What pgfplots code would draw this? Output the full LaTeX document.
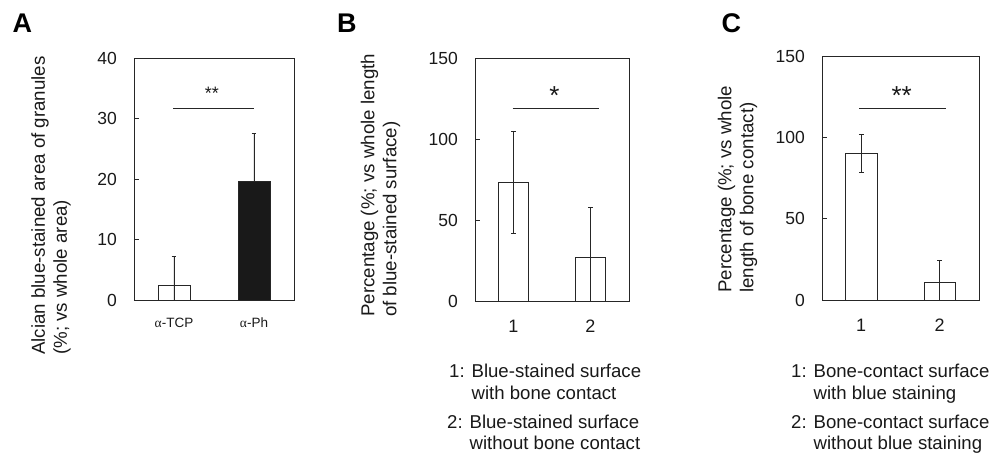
\documentclass[border=0pt]{standalone}
\usepackage{fontspec}
\setmainfont{Liberation Sans}
\newfontfamily\greekserif{Liberation Serif}
\usepackage{pgfplots}
\pgfplotsset{compat=1.18}
\tikzset{sigstar/.style={anchor=base, inner sep=0pt, font=\fontsize{18}{18}\selectfont, text=black!90}}
\begin{document}
\begin{tikzpicture}
\useasboundingbox (0pt,0pt) rectangle (989pt,-454pt);
\pgfplotsset{
  panel/.style={
    scale only axis, anchor=south west,
    axis line style={line width=0.9pt, black!85},
    xmin=0.5, xmax=2.5, ymin=0, xtick={1,2},
    major tick length=5pt, tick align=inside,
    ytick pos=left, xtick pos=bottom,
    ytick style={line width=0.8pt, black!85},
    xtick style={draw=none},
    /pgf/number format/assume math mode=true,
    yticklabel style={font=\fontsize{17.5}{17.5}\selectfont, inner sep=0pt, anchor=east, xshift=-17pt, text=black!90},
    xticklabel style={font=\fontsize{18}{18}\selectfont, inner sep=0pt, anchor=center, yshift=-25pt, text=black!90},
    ylabel style={font=\fontsize{18.7}{22}\selectfont, align=left, inner sep=0pt, anchor=west, rotate=0, text=black!90},
  },
  wbar/.style={ybar, bar shift=0pt, bar width=#1, fill=white, draw=black!85, line width=0.9pt,
    error bars/y dir=both, error bars/y explicit,
    error bars/error bar style={line width=0.8pt, black!85},
    error bars/error mark options={rotate=90, mark size=2.4pt, line width=0.8pt, black!85}},
  sigline/.style={black!85, line width=0.8pt},
}
% Panel A
\begin{axis}[panel, at={(134pt,-300pt)}, width=160pt, height=242pt,
  ymax=40, ytick={0,10,20,30,40},
  xticklabels={{\greekserif α}-TCP,{\greekserif α}-Ph},
  xticklabel style={font=\fontsize{13.5}{13.5}\selectfont, yshift=2pt},
  ylabel={Alcian blue-stained area of granules\\(\%; vs whole area)},
  ylabel style={at={(axis description cs:-0.519,-0.227)}}]
\addplot[wbar=32pt] coordinates {(1,2.4) +- (0,4.8)};
\addplot[wbar=32pt, fill=black!90, error bars/y dir=plus] coordinates {(2,19.6) +- (0,7.9)};
\addplot[sigline] coordinates {(0.99,31.7) (2.0,31.7)};
\node[sigstar] at (axis cs:1.475,33.2) {**};
\end{axis}
% Panel B
\begin{axis}[panel, at={(475pt,-301pt)}, width=154pt, height=243pt,
  ymax=150, ytick={0,50,100,150},
  ylabel={Percentage (\%; vs whole length\\of blue-stained surface)},
  ylabel style={at={(axis description cs:-0.614,-0.066)}}]
\addplot[wbar=30.5pt] coordinates {(1,73.2) +- (0,31.4)};
\addplot[wbar=30.5pt] coordinates {(2,27) +- (0,31)};
\addplot[sigline] coordinates {(0.99,119) (2.11,119)};
\node[sigstar, font=\fontsize{26}{26}\selectfont] at (axis cs:1.532,121.5) {*};
\end{axis}
% Panel C
\begin{axis}[panel, at={(822pt,-300pt)}, width=157pt, height=244pt,
  ymax=150, ytick={0,50,100,150},
  ylabel={Percentage (\%; vs whole\\length of bone contact)},
  ylabel style={at={(axis description cs:-0.538,0.029)}}]
\addplot[wbar=31.5pt] coordinates {(1,90) +- (0,11.5)};
\addplot[wbar=31.5pt] coordinates {(2,11) +- (0,13.5)};
\addplot[sigline] coordinates {(0.975,117.8) (2.08,117.8)};
\node[sigstar, font=\fontsize{26}{26}\selectfont] at (axis cs:1.515,120.2) {**};
\end{axis}
% Panel letters
\node[anchor=base west, inner sep=0pt, font=\bfseries\fontsize{27}{27}\selectfont] at (12.5pt,-32.5pt) {A};
\node[anchor=base west, inner sep=0pt, font=\bfseries\fontsize{27}{27}\selectfont] at (337pt,-32.5pt) {B};
\node[anchor=base west, inner sep=0pt, font=\bfseries\fontsize{27}{27}\selectfont] at (721.5pt,-32.5pt) {C};
% Category explanations
\begin{scope}[every node/.style={anchor=base west, inner sep=0pt, font=\fontsize{18.6}{18.6}\selectfont, text=black!90}]
\node at (449pt,-378pt) {1: Blue-stained surface};
\node at (449pt,-399.5pt) {\phantom{1: }with bone contact};
\node at (447pt,-429pt) {2: Blue-stained surface};
\node at (447pt,-449.5pt) {\phantom{2: }without bone contact};
\node at (791pt,-378pt) {1: Bone-contact surface};
\node at (791pt,-399.5pt) {\phantom{1: }with blue staining};
\node at (791pt,-429pt) {2: Bone-contact surface};
\node at (791pt,-449.5pt) {\phantom{2: }without blue staining};
\end{scope}
\end{tikzpicture}
\end{document}
